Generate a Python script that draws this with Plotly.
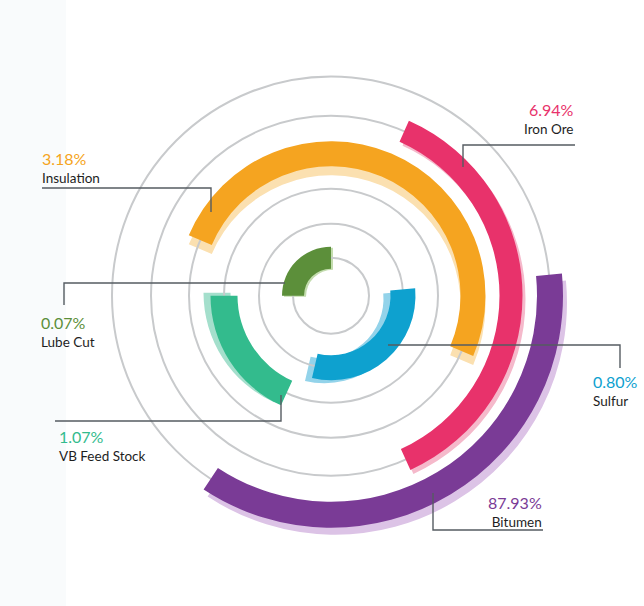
import plotly.graph_objects as go

# ---------------- data ----------------
categories = ["Lube Cut", "Sulfur", "VB Feed Stock", "Insulation", "Iron Ore", "Bitumen"]
shares = [0.07, 0.80, 1.07, 3.18, 6.94, 87.93]
arc_start = [270.0, 85.0, 204.5, 293.0, 24.0, 84.5]     # degrees, clockwise from 12 o'clock
arc_end = [360.0, 193.0, 270.0, 473.0, 155.5, 213.3]

# ---------------- layout / style ----------------
W, H = 644, 606
CX, CY = 331, 295.7          # centre of the rings (px)
R = 250                      # radial range == px radius of the polar domain
RING_R = [38, 72, 107, 142, 180, 219]
BAR_W = [22, 25, 27, 25, 23, 26]
colors = ["#5c8f3a", "#0ea1cf", "#33bb8d", "#f5a420", "#e8326b", "#7a3b96"]
shadow_colors = ["#c3dcae", "#93d3ea", "#a4dfcc", "#fbe0b0", "#f5b9cb", "#dcc3e6"]
shadow_off = [(2, 1), (-7, 3), (-7, -3), (0, 9), (3, 4), (4, 7)]


def X(px):
    return px / W


def Y(py):
    return 1 - py / H


def dom(dx=0, dy=0):
    yc = H - CY - dy
    return dict(x=[(CX - R + dx) / W, (CX + R + dx) / W],
                y=[(yc - R) / H, (yc + R) / H])


def polar_layout(dx, dy, grid):
    return dict(
        domain=dom(dx, dy),
        bgcolor="rgba(0,0,0,0)",
        angularaxis=dict(rotation=90, direction="clockwise", showgrid=False,
                         showline=False, showticklabels=False, ticks=""),
        radialaxis=dict(range=[0, R], showline=False, showticklabels=False,
                        ticks="", showgrid=grid, tickvals=RING_R,
                        gridcolor="#c8cacc", gridwidth=2),
    )


fig = go.Figure()
layout = {}
n = len(categories)
# shadow subplots first (drawn below), main subplot last
for i in range(n):
    key = "polar" if i == 0 else f"polar{i + 1}"
    dx, dy = shadow_off[i]
    layout[key] = polar_layout(dx, dy, False)
    mid = (arc_start[i] + arc_end[i]) / 2
    span = arc_end[i] - arc_start[i]
    fig.add_trace(go.Barpolar(
        r=[BAR_W[i]], base=[RING_R[i] - BAR_W[i] / 2], theta=[mid], width=[span],
        marker=dict(color=shadow_colors[i], line=dict(width=0)),
        subplot=key, showlegend=False, hoverinfo="skip"))

main_key = f"polar{n + 1}"
layout[main_key] = polar_layout(0, 0, True)
for i in range(n):
    mid = (arc_start[i] + arc_end[i]) / 2
    span = arc_end[i] - arc_start[i]
    fig.add_trace(go.Barpolar(
        r=[BAR_W[i]], base=[RING_R[i] - BAR_W[i] / 2], theta=[mid], width=[span],
        marker=dict(color=colors[i], line=dict(width=0)),
        name=categories[i], subplot=main_key, showlegend=False,
        hovertemplate=f"{categories[i]}: {shares[i]:.2f}%<extra></extra>"))

# connector lines (px paths) and label anchors
connectors = [
    [(285, 283), (64, 283), (64, 305)],       # Lube Cut
    [(388, 345), (620, 345), (620, 368)],     # Sulfur
    [(281, 395), (281, 421), (55, 421)],      # VB Feed Stock
    [(211, 212), (211, 188), (42, 188)],      # Insulation
    [(463, 167), (463, 145), (575, 145)],     # Iron Ore
    [(433, 493), (433, 530), (543, 530)],     # Bitumen
]
label_pos = [  # x, pct-line y, name-line y, anchor
    (39, 322.5, 340, "left"),
    (591, 382.5, 398, "left"),
    (57, 437.5, 454, "left"),
    (40, 159, 176, "left"),
    (576, 111, 126.5, "right"),
    (544, 503.5, 520, "right"),
]

shapes = [dict(type="rect", xref="paper", yref="paper", x0=0, x1=X(66), y0=0, y1=1,
               fillcolor="#f9fbfc", line=dict(width=0), layer="below")]
for pts in connectors:
    path = "M " + " L ".join(f"{X(px)},{Y(py)}" for px, py in pts)
    shapes.append(dict(type="path", xref="paper", yref="paper", path=path,
                       line=dict(color="#565c62", width=1.4)))

annotations = []
for i in range(n):
    x, yp, yn, anc = label_pos[i]
    text = (f"<span style='font-size:16px;color:{colors[i]}'>{shares[i]:.2f}%</span>"
            f"<br>{categories[i]}")
    annotations.append(dict(x=X(x), y=Y((yp + yn) / 2), xref="paper", yref="paper",
                            text=text, showarrow=False, align=anc,
                            xanchor=anc, yanchor="middle",
                            font=dict(family="Lato", size=13.5, color="#1e1e1e")))

fig.update_layout(
    width=W, height=H, margin=dict(l=0, r=0, t=0, b=0),
    paper_bgcolor="white", plot_bgcolor="white",
    shapes=shapes, annotations=annotations, showlegend=False,
    **layout,
)

fig.write_html("out.html", config={"displayModeBar": False},
               post_script="document.body.style.margin='0';document.body.style.padding='0';")
